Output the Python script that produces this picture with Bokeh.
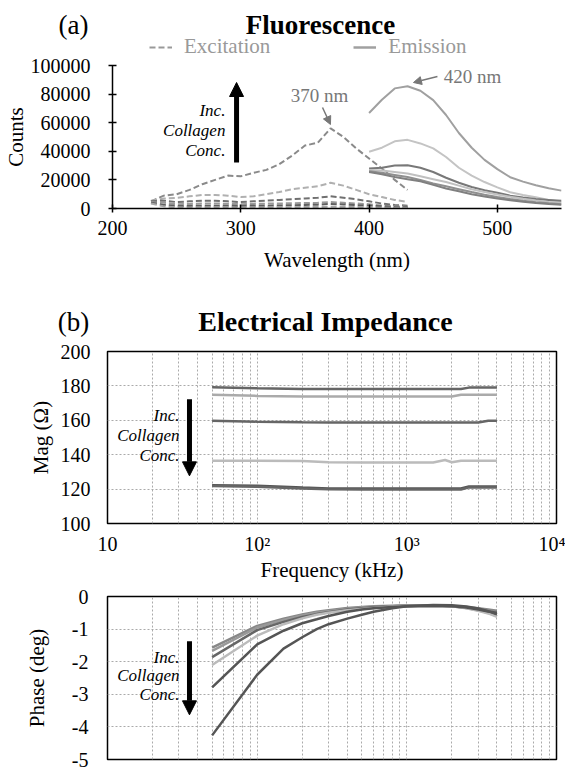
from bokeh.plotting import figure
from bokeh.models import (Range1d, FixedTicker, Label, Arrow, NormalHead, Legend,
                          LegendItem, ColumnDataSource)
from bokeh.layouts import column
from bokeh.embed import file_html
from bokeh.resources import INLINE

FONT = "Liberation Serif"
NAN = float("nan")

# ---------------- data: fluorescence ----------------
wl_ex = [230, 240, 250, 260, 270, 280, 290, 300, 310, 320, 330, 340, 350, 360, 370,
         380, 390, 400, 410, 420, 430]
ex1 = [5000, 9000, 10000, 13000, 17000, 20000, 23000, 22500, 25000, 27000, 31000, 37000,
       44000, 46000, 56000, 50000, 42000, 35000, 28000, 20000, 13000]
ex2 = [5500, 7000, 7500, 8500, 9500, 9500, 9000, 8000, 8500, 10000, 11500, 13500,
       14500, 15500, 18000, 16000, 13000, 10000, 8000, 6000, 4500]
ex3 = [5000, 5500, 4500, 5000, 5500, 5500, 5000, 4500, 5000, 5500, 6000, 6500,
       7000, 7500, 8500, 7500, 6500, 5000, 3500, 2500, 2000]
ex4 = [4500, 4000, 3000, 3200, 3500, 3500, 3300, 3000, 3200, 3400, 3500, 3700,
       3800, 4000, 4500, 4000, 3500, 3000, 2000, 1500, 1200]
ex5 = [4000, 2500, 1800, 1800, 2000, 2000, 1900, 1800, 1900, 2000, 2100, 2300,
       2500, 2700, 3200, 2800, 2400, 2000, 1500, 1000, 800]
ex6 = [3500, 1500, 800, 700, 700, 800, 800, 700, 700, 800, 800, 900,
       1000, 1000, 1200, 1100, 1000, 800, 600, 500, 400]

wl_em = [400, 410, 420, 430, 440, 450, 460, 470, 480, 490, 500, 510, 520, 530, 540, 550]
em1 = [66800, 76000, 84000, 85500, 82300, 75800, 65400, 52800, 42500, 34000, 27500,
       21900, 18800, 16200, 14200, 12500]
em2 = [39700, 42500, 47000, 48000, 45500, 42000, 36000, 28500, 23000, 18500, 14800,
       11400, 9500, 7800, 6000, 4700]
em3 = [28000, 28500, 30000, 30300, 28500, 25500, 21500, 18000, 15000, 12800, 11000,
       9000, 7700, 6600, 6000, 5400]
em4 = [27000, 26500, 25500, 24500, 22500, 20500, 18500, 16000, 13500, 11500, 9800,
       8200, 6800, 5600, 4600, 3800]
em5 = [26000, 25000, 23500, 22000, 20000, 17500, 15500, 13500, 11500, 9600, 8000,
       6600, 5400, 4400, 3600, 3000]
em6 = [25500, 24000, 22000, 20500, 19000, 16500, 14000, 12000, 10000, 8400, 7000,
       5800, 4800, 3900, 3200, 2600]

counts_ticks = [0, 20000, 40000, 60000, 80000, 100000]
counts_labels = ["0", "20000", "40000", "60000", "80000", "100000"]
wl_ticks = [200, 300, 400, 500]

# ---------------- data: impedance ----------------
freq_mag = [50, 100, 200, 300, 500, 1000, 1500, 1800, 2000, 2300, 2600, 3000, 3500, 4000]
mag1 = [179.2, 178.6, 178.2, 178.2, 178.2, 178.2, 178.2, 178.2, 178.2, 178.2, 179.0, 179.0, 179.0, 179.0]
mag2 = [174.8, 174.2, 173.8, 173.8, 173.8, 173.8, 173.8, 173.8, 173.8, 174.8, 174.8, 174.8, 174.8, 174.8]
mag3 = [159.7, 159.2, 158.8, 158.7, 158.7, 158.7, 158.7, 158.7, 158.7, 158.7, 158.7, 158.7, 159.7, 159.7]
mag4 = [136.5, 136.5, 136.3, 135.6, 135.5, 135.5, 135.5, 136.9, 135.6, 136.5, 136.5, 136.5, 136.5, 136.5]
mag5 = [122.3, 121.9, 120.9, 120.4, 120.3, 120.3, 120.3, 120.3, 120.3, 120.3, 121.5, 121.5, 121.5, 121.5]
mag6 = [121.8, 121.4, 120.4, 119.9, 119.8, 119.8, 119.8, 119.8, 119.8, 119.8, 121.0, 121.0, 121.0, 121.0]

freq_ph = [50, 100, 150, 200, 250, 300, 400, 500, 600, 800, 1000, 1500, 2000, 2500, 3000, 3500, 4000]
ph1 = [-1.57, -0.90, -0.68, -0.55, -0.47, -0.42, -0.35, -0.32, -0.30, -0.28, -0.27, -0.27, -0.29, -0.32, -0.36, -0.40, -0.44]
ph2 = [-1.67, -0.95, -0.72, -0.58, -0.50, -0.45, -0.38, -0.34, -0.32, -0.30, -0.29, -0.28, -0.30, -0.34, -0.40, -0.46, -0.52]
ph3 = [-1.86, -1.03, -0.78, -0.63, -0.54, -0.48, -0.40, -0.36, -0.33, -0.30, -0.29, -0.28, -0.30, -0.35, -0.42, -0.50, -0.60]
ph4 = [-2.10, -1.20, -0.85, -0.67, -0.56, -0.50, -0.42, -0.38, -0.35, -0.31, -0.29, -0.28, -0.30, -0.36, -0.44, -0.52, -0.62]
ph5 = [-2.79, -1.47, -1.05, -0.82, -0.70, -0.60, -0.47, -0.40, -0.36, -0.32, -0.30, -0.28, -0.30, -0.34, -0.40, -0.46, -0.50]
ph6 = [-4.26, -2.40, -1.60, -1.25, -1.00, -0.85, -0.68, -0.56, -0.47, -0.36, -0.30, -0.26, -0.27, -0.31, -0.37, -0.45, -0.55]

freq_major = [10, 100, 1000, 10000]
freq_labels = ["10", "10\u00b2", "10\u00b3", "10\u2074"]
freq_minor = [m * d for d in (10, 100, 1000) for m in range(2, 10)]
mag_ticks = [100, 120, 140, 160, 180, 200]
ph_ticks = [0, -1, -2, -3, -4, -5]
ph_labels = ["0", "-1", "-2", "-3", "-4", "-5"]

# ---------------- styles ----------------
ex_colors = ["#8a8a8a", "#b0b0b0", "#707070", "#999999", "#606060", "#a8a8a8"]
em_colors = ["#a0a0a0", "#c4c4c4", "#787878", "#c0c0c0", "#909090", "#808080"]
mag_colors = ["#666666", "#aaaaaa", "#666666", "#bbbbbb", "#555555", "#666666"]
ph_colors = ["#888888", "#999999", "#666666", "#bbbbbb", "#555555", "#555555"]


def style_axis_text(ax, size="20px"):
    ax.major_label_text_font = FONT
    ax.major_label_text_font_size = size
    ax.major_label_text_color = "black"
    ax.axis_label_text_font = FONT
    ax.axis_label_text_font_size = "21px"
    ax.axis_label_text_font_style = "normal"
    ax.axis_label_text_color = "black"


def header(top, bottom):
    # strip above a panel; frame fills the canvas, data units = page pixels
    h = figure(width=565, height=bottom - top, min_border_left=0, min_border_right=0,
               min_border_top=0, min_border_bottom=0, frame_align=False,
               output_backend="svg", toolbar_location=None, title_location=None,
               x_axis_location=None, y_axis_location=None,
               x_range=Range1d(8, 573), y_range=Range1d(bottom, top))
    h.outline_line_color = None
    h.grid.visible = False
    return h


def lab(p, x, y, text, size, style="normal", color="black", align="center",
        baseline="middle"):
    p.add_layout(Label(x=x, y=y, text=text, text_font=FONT, text_font_size=size,
                       text_font_style=style, text_color=color, text_align=align,
                       text_baseline=baseline))


# ================= header (a) =================
h1 = header(8, 61)
lab(h1, 81, 32.5, "(a)", "27px", baseline="alphabetic")
lab(h1, 328, 32.5, "Fluorescence", "27px", "bold", baseline="alphabetic")
legend_src = ColumnDataSource(dict(x=[NAN, NAN], y=[NAN, NAN]))
r_ex = h1.line("x", "y", source=legend_src, line_color="#999999", line_width=2,
               line_dash="6 3")
r_em = h1.line("x", "y", source=legend_src, line_color="#a0a0a0", line_width=2.5)
legend = Legend(items=[LegendItem(label="Excitation", renderers=[r_ex]),
                       LegendItem(label="Emission", renderers=[r_em])],
                orientation="horizontal", location=(149, -6), border_line_color=None,
                background_fill_alpha=0, label_text_font=FONT, label_text_font_size="21px",
                label_text_color="#999999", glyph_width=23, glyph_height=20,
                label_height=20, label_standoff=12, spacing=83, padding=0, margin=0)
h1.add_layout(legend)

# ================= Panel (a) =================
p1 = figure(frame_width=449, frame_height=143, min_border_left=107, min_border_right=9,
            min_border_top=12, min_border_bottom=74, frame_align=False,
            output_backend="svg", toolbar_location=None, title_location=None,
            x_range=Range1d(200, 550), y_range=Range1d(0, 100000))
p1.outline_line_color = None
p1.grid.visible = False
for ax in (p1.xaxis[0], p1.yaxis[0]):
    style_axis_text(ax)
    ax.axis_line_color = "black"
    ax.axis_line_width = 1.5
    ax.major_tick_line_color = "black"
    ax.major_tick_line_width = 1.5
    ax.major_tick_in = 4
    ax.major_tick_out = 4
    ax.minor_tick_line_color = None
p1.xaxis.ticker = FixedTicker(ticks=wl_ticks)
p1.yaxis.ticker = FixedTicker(ticks=counts_ticks)
p1.yaxis.major_label_overrides = {t: l for t, l in zip(counts_ticks, counts_labels)}
p1.xaxis.major_label_standoff = 8
p1.yaxis.major_label_standoff = 18
p1.xaxis.axis_label = "Wavelength (nm)"
p1.yaxis.axis_label = "Counts"
p1.xaxis.axis_label_standoff = 10
p1.yaxis.axis_label_standoff = 0

for ys, c in zip([ex1, ex2, ex3, ex4, ex5, ex6], ex_colors):
    p1.line(wl_ex, ys, line_color=c, line_width=2, line_dash="6 3")
for ys, c in zip([em1, em2, em3, em4, em5, em6], em_colors):
    p1.line(wl_em, ys, line_color=c, line_width=2)

p1.add_layout(Arrow(end=NormalHead(size=14, fill_color="black", line_color="black"),
                    x_start=296.7, y_start=32170, x_end=296.7, y_end=88110,
                    line_width=5, line_color="black"))
for txt, yy in (("Inc.", 68530), ("Collagen", 54550), ("Conc.", 40560)):
    lab(p1, 288, yy, txt, "17px", "italic", align="right")
lab(p1, 361.4, 79020, "370 nm", "19px", color="#777777")
p1.add_layout(Arrow(end=NormalHead(size=8, fill_color="#777777", line_color="#777777"),
                    x_start=363.7, y_start=70630, x_end=369.9, y_end=58740,
                    line_width=1.5, line_color="#777777"))
lab(p1, 480.6, 92310, "420 nm", "19px", color="#777777")
p1.add_layout(Arrow(end=NormalHead(size=8, fill_color="#777777", line_color="#777777"),
                    x_start=453.3, y_start=92310, x_end=434.6, y_end=88110,
                    line_width=1.5, line_color="#777777"))

# ================= header (b) =================
h2 = header(290, 347)
lab(h2, 81, 329, "(b)", "27px", baseline="alphabetic")
lab(h2, 333, 329, "Electrical Impedance", "28px", "bold", baseline="alphabetic")


# ================= impedance helpers =================
def imp_fig(yr, mb_top, fh, mb_bottom):
    p = figure(frame_width=449, frame_height=fh, min_border_left=107, min_border_right=9,
               min_border_top=mb_top, min_border_bottom=mb_bottom, frame_align=False,
               output_backend="svg", toolbar_location=None, title_location=None,
               x_axis_type="log", x_range=Range1d(10, 10000), y_range=yr)
    p.outline_line_color = "black"
    p.outline_line_width = 1.5
    p.xaxis.ticker = FixedTicker(ticks=freq_major, minor_ticks=freq_minor)
    for ax in (p.xaxis[0], p.yaxis[0]):
        style_axis_text(ax)
        ax.axis_line_color = None
        ax.major_tick_line_color = None
        ax.minor_tick_line_color = None
        ax.major_tick_out = 0
        ax.major_tick_in = 0
    p.xgrid.grid_line_color = "#aaaaaa"
    p.xgrid.grid_line_dash = "2 2"
    p.xgrid.minor_grid_line_color = "#aaaaaa"
    p.xgrid.minor_grid_line_dash = "2 2"
    p.ygrid.grid_line_color = "#aaaaaa"
    p.ygrid.grid_line_dash = "2 2"
    return p


# ================= Magnitude =================
p2 = imp_fig(Range1d(100, 200), 12, 172, 52)
p2.yaxis.ticker = FixedTicker(ticks=mag_ticks)
p2.xaxis.major_label_overrides = {t: l for t, l in zip(freq_major, freq_labels)}
p2.xaxis.major_label_standoff = 5
p2.xaxis.axis_label = "Frequency (kHz)"
p2.xaxis.axis_label_standoff = 0
p2.yaxis.major_label_standoff = 17
p2.yaxis.axis_label = "Mag (\u03a9)"
p2.yaxis.axis_label_standoff = 5
for ys, c in zip([mag1, mag2, mag3, mag4, mag5, mag6], mag_colors):
    p2.line(freq_mag, ys, line_color=c, line_width=2.5)
p2.add_layout(Arrow(end=NormalHead(size=14, fill_color="black", line_color="black"),
                    x_start=35.3, y_start=172.3, x_end=35.3, y_end=127.7,
                    line_width=5, line_color="black"))
for txt, yy in (("Inc.", 162.7), ("Collagen", 151.0), ("Conc.", 139.7)):
    lab(p2, 30.3, yy, txt, "17px", "italic", align="right")

# ================= Phase =================
p3 = imp_fig(Range1d(-5, 0), 12, 163, 13)
p3.xaxis.visible = False
p3.xgrid.ticker = FixedTicker(ticks=freq_major, minor_ticks=freq_minor)
p3.yaxis.ticker = FixedTicker(ticks=ph_ticks)
p3.yaxis.major_label_overrides = {t: l for t, l in zip(ph_ticks, ph_labels)}
p3.yaxis.major_label_standoff = 19
p3.yaxis.axis_label = "Phase (deg)"
p3.yaxis.axis_label_standoff = 20
for ys, c in zip([ph1, ph2, ph3, ph4, ph5, ph6], ph_colors):
    p3.line(freq_ph, ys, line_color=c, line_width=2.5)
p3.add_layout(Arrow(end=NormalHead(size=14, fill_color="black", line_color="black"),
                    x_start=35.3, y_start=-1.37, x_end=35.3, y_end=-3.63,
                    line_width=5, line_color="black"))
for txt, yy in (("Inc.", -1.86), ("Collagen", -2.43), ("Conc.", -3.02)):
    lab(p3, 30.3, yy, txt, "17px", "italic", align="right")

layout = column(h1, p1, h2, p2, p3, spacing=0)
open("out.html", "w").write(file_html(layout, INLINE))
